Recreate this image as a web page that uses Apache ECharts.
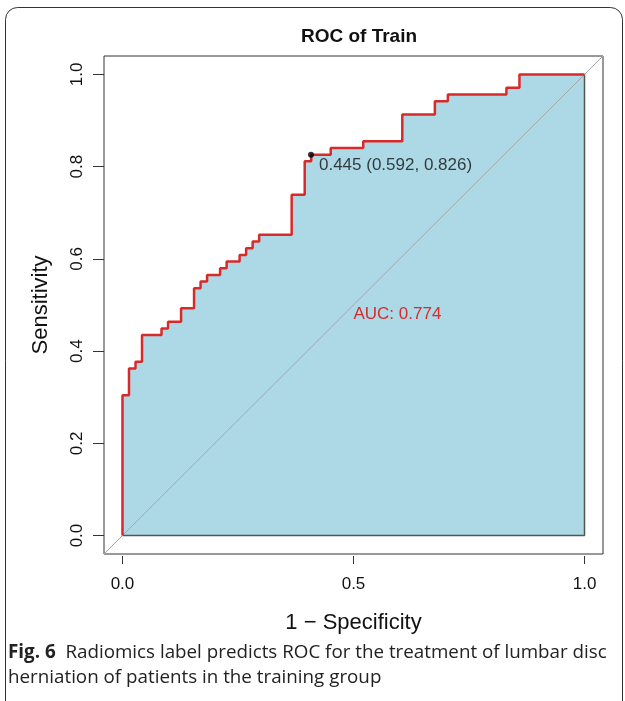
<!DOCTYPE html>
<html>
<head>
<meta charset="utf-8">
<script src="https://cdn.jsdelivr.net/npm/echarts@6/dist/echarts.min.js"></script>
<style>
  html, body { margin: 0; padding: 0; background: #fff; }
  #chart { width: 625px; height: 701px; }
</style>
</head>
<body>
<div id="chart"></div>
<script>
// ROC points (1 - specificity, sensitivity)
const fpr = [0, 0, 0.0141, 0.0282, 0.0423, 0.0845, 0.0986, 0.1268, 0.1549, 0.169,
  0.1831, 0.2113, 0.2254, 0.2535, 0.2676, 0.2817, 0.2958, 0.3662, 0.3944, 0.4085,
  0.4507, 0.5211, 0.6056, 0.6761, 0.7042, 0.831, 0.8592, 1];
const tpr = [0, 0.3043, 0.3623, 0.3768, 0.4348, 0.4493, 0.4638, 0.4928, 0.5362, 0.5507,
  0.5652, 0.5797, 0.5942, 0.6087, 0.6232, 0.6377, 0.6522, 0.7391, 0.8116, 0.8261,
  0.8406, 0.8551, 0.913, 0.942, 0.9565, 0.971, 1, 1];

// best threshold
const best = { threshold: 0.445, spec: 0.592, sens: 0.826 };
const auc = 0.774;

const xTicks = [0, 0.5, 1];
const yTicks = [0, 0.2, 0.4, 0.6, 0.8, 1];

// curve goes across first, then up (like plot.roc)
const curve = [[fpr[0], tpr[0]]];
for (let i = 1; i < fpr.length; i++) {
  curve.push([fpr[i], tpr[i - 1]]);
  curve.push([fpr[i], tpr[i]]);
}

const RED = '#d92a2a';
const FONT = 'Liberation Sans, Arial, sans-serif';
const CAP_FONT = 'Open Sans, Noto Sans, sans-serif';

const chart = echarts.init(document.getElementById('chart'));
chart.setOption({
  animation: false,
  title: {
    text: 'ROC of Train',
    left: 354,
    top: 22,
    textAlign: 'center',
    textStyle: { fontFamily: FONT, fontSize: 19, fontWeight: 'bold', color: '#111' }
  },
  grid: {
    left: 104, right: 22, top: 56, bottom: 147,
    show: true, borderColor: '#333', borderWidth: 1
  },
  xAxis: {
    type: 'value', min: -0.04, max: 1.04,
    splitLine: { show: false },
    axisLine: { show: false, onZero: false },
    offset: 2,
    axisTick: { show: true, length: 8, customValues: xTicks, lineStyle: { color: '#333' } },
    axisLabel: {
      customValues: xTicks, margin: 20,
      formatter: v => v.toFixed(1),
      fontFamily: FONT, fontSize: 17, color: '#111'
    },
    name: '1 \u2212 Specificity',
    nameLocation: 'middle', nameGap: 56,
    nameTextStyle: { fontFamily: FONT, fontSize: 22, color: '#111' }
  },
  yAxis: {
    type: 'value', min: -0.04, max: 1.04,
    splitLine: { show: false },
    axisLine: { show: false, onZero: false },
    axisTick: { show: true, length: 11, customValues: yTicks, lineStyle: { color: '#333' } },
    axisLabel: {
      customValues: yTicks, margin: 18, rotate: 90,
      formatter: v => v.toFixed(1),
      fontFamily: FONT, fontSize: 17, color: '#111'
    },
    name: 'Sensitivity',
    nameLocation: 'middle', nameGap: 52, nameRotate: 90,
    nameTextStyle: { fontFamily: FONT, fontSize: 22, color: '#111' }
  },
  series: [
    {
      // filled area under the curve
      type: 'line', data: curve, symbol: 'none',
      lineStyle: { width: 0 },
      areaStyle: { color: '#add8e6', opacity: 1 },
      z: 1
    },
    {
      type: 'line', data: [[0, 0], [1, 0], [1, 1]], symbol: 'none',
      lineStyle: { color: '#555', width: 1.5 },
      z: 2
    },
    {
      // chance line across the whole plot
      type: 'line', data: [[-0.04, -0.04], [1.04, 1.04]], symbol: 'none',
      lineStyle: { color: '#a6a6a6', width: 1 },
      z: 3
    },
    {
      type: 'line', data: curve, symbol: 'none',
      lineStyle: { color: RED, width: 2.5 },
      z: 4,
      markPoint: {
        symbol: 'circle', symbolSize: 0,
        label: {
          show: true, position: 'inside',
          formatter: 'AUC: ' + auc.toFixed(3),
          fontFamily: FONT, fontSize: 17, color: RED
        },
        data: [{ coord: [0.595, 0.48] }]
      }
    },
    {
      type: 'scatter',
      data: [[1 - best.spec, best.sens]],
      symbol: 'circle', symbolSize: 6,
      itemStyle: { color: '#000' },
      label: {
        show: true, position: 'right',
        offset: [2, 11], distance: 3,
        formatter: best.threshold.toFixed(3) + ' (' + best.spec.toFixed(3) + ', ' + best.sens.toFixed(3) + ')',
        fontFamily: FONT, fontSize: 17, color: '#111'
      },
      z: 5
    }
  ],
  graphic: [
    {
      type: 'rect',
      shape: { x: 5.5, y: 7.5, width: 617, height: 720, r: 12 },
      style: { fill: 'none', stroke: '#333', lineWidth: 1 },
      silent: true
    },
    {
      type: 'text',
      left: 8, top: 640,
      style: {
        text: '{b|Fig. 6}  Radiomics label predicts ROC for the treatment of lumbar disc\nherniation of patients in the training group',
        fontFamily: CAP_FONT,
        fontSize: 18.8, lineHeight: 25, fill: '#222',
        rich: {
          b: { fontFamily: CAP_FONT, fontSize: 18.8, fontWeight: 'bold', fill: '#222' }
        }
      }
    }
  ]
});
</script>
</body>
</html>
